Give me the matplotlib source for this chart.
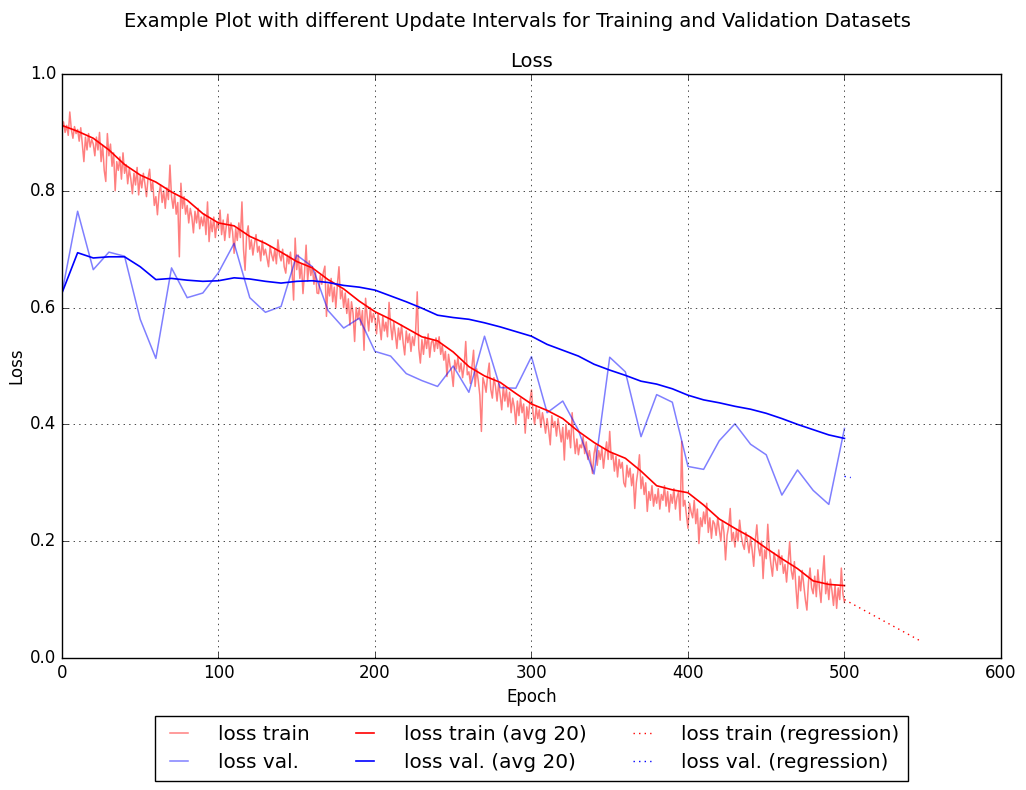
import matplotlib
matplotlib.use("Agg")
import matplotlib.pyplot as plt

# loss per training epoch (0..500)
loss_train = [
    0.905, 0.918, 0.900, 0.912, 0.895, 0.935, 0.905, 0.890, 0.910, 0.898,
    0.905, 0.885, 0.908, 0.880, 0.850, 0.892, 0.870, 0.898, 0.875, 0.888,
    0.880, 0.860, 0.892, 0.870, 0.900, 0.850, 0.878, 0.835, 0.816, 0.898,
    0.860, 0.880, 0.842, 0.865, 0.800, 0.850, 0.835, 0.858, 0.820, 0.865,
    0.830, 0.845, 0.812, 0.838, 0.820, 0.795, 0.830, 0.810, 0.840, 0.793,
    0.825, 0.805, 0.830, 0.812, 0.790, 0.822, 0.837, 0.800, 0.815, 0.775,
    0.790, 0.759, 0.795, 0.810, 0.780, 0.800, 0.770, 0.805, 0.785, 0.844,
    0.790, 0.770, 0.795, 0.760, 0.780, 0.687, 0.813, 0.770, 0.790, 0.760,
    0.775, 0.745, 0.770, 0.755, 0.728, 0.765, 0.745, 0.770, 0.735, 0.755,
    0.740, 0.760, 0.725, 0.781, 0.713, 0.750, 0.730, 0.755, 0.720, 0.745,
    0.735, 0.767, 0.725, 0.750, 0.715, 0.740, 0.760, 0.720, 0.745, 0.730,
    0.693, 0.735, 0.715, 0.745, 0.720, 0.781, 0.700, 0.664, 0.725, 0.740,
    0.700, 0.716, 0.690, 0.710, 0.725, 0.695, 0.705, 0.680, 0.715, 0.690,
    0.700, 0.685, 0.670, 0.705, 0.690, 0.680, 0.700, 0.675, 0.716, 0.690,
    0.680, 0.700, 0.670, 0.659, 0.690, 0.675, 0.695, 0.665, 0.613, 0.719,
    0.665, 0.690, 0.650, 0.675, 0.624, 0.660, 0.707, 0.645, 0.680, 0.655,
    0.670, 0.640, 0.660, 0.625, 0.624, 0.655, 0.640, 0.660, 0.671, 0.585,
    0.640, 0.620, 0.650, 0.610, 0.635, 0.600, 0.640, 0.670, 0.615, 0.630,
    0.600, 0.625, 0.590, 0.615, 0.570, 0.610, 0.590, 0.542, 0.600, 0.580,
    0.600, 0.570, 0.595, 0.527, 0.616, 0.585, 0.560, 0.600, 0.575, 0.590,
    0.580, 0.555, 0.590, 0.570, 0.545, 0.585, 0.560, 0.575, 0.550, 0.609,
    0.570, 0.545, 0.575, 0.555, 0.530, 0.565, 0.545, 0.570, 0.540, 0.519,
    0.560, 0.540, 0.555, 0.525, 0.550, 0.535, 0.560, 0.627, 0.530, 0.505,
    0.545, 0.520, 0.550, 0.530, 0.555, 0.515, 0.540, 0.545, 0.525, 0.548,
    0.530, 0.550, 0.520, 0.535, 0.510, 0.525, 0.482, 0.520, 0.500, 0.490,
    0.465, 0.510, 0.495, 0.515, 0.490, 0.505, 0.480, 0.500, 0.542, 0.485,
    0.490, 0.470, 0.500, 0.527, 0.465, 0.495, 0.475, 0.450, 0.388, 0.480,
    0.470, 0.455, 0.485, 0.505, 0.460, 0.445, 0.480, 0.465, 0.440, 0.470,
    0.450, 0.425, 0.465, 0.440, 0.460, 0.430, 0.455, 0.420, 0.445, 0.430,
    0.400, 0.440, 0.415, 0.445, 0.420, 0.435, 0.385, 0.430, 0.410, 0.440,
    0.459, 0.420, 0.400, 0.430, 0.410, 0.425, 0.395, 0.420, 0.405, 0.385,
    0.410, 0.390, 0.365, 0.415, 0.395, 0.405, 0.380, 0.410, 0.390, 0.370,
    0.395, 0.339, 0.400, 0.375, 0.390, 0.360, 0.420, 0.380, 0.350, 0.375,
    0.348, 0.365, 0.360, 0.379, 0.350, 0.370, 0.340, 0.355, 0.335, 0.316,
    0.350, 0.365, 0.330, 0.355, 0.340, 0.360, 0.325, 0.350, 0.370, 0.340,
    0.388, 0.340, 0.350, 0.320, 0.345, 0.310, 0.340, 0.325, 0.335, 0.300,
    0.293, 0.330, 0.310, 0.325, 0.295, 0.315, 0.256, 0.300, 0.320, 0.348,
    0.290, 0.310, 0.280, 0.300, 0.251, 0.285, 0.270, 0.295, 0.260, 0.280,
    0.265, 0.290, 0.255, 0.280, 0.270, 0.295, 0.260, 0.285, 0.250, 0.280,
    0.265, 0.290, 0.255, 0.275, 0.285, 0.236, 0.371, 0.260, 0.270, 0.245,
    0.222, 0.265, 0.250, 0.240, 0.270, 0.230, 0.255, 0.196, 0.240, 0.225,
    0.250, 0.230, 0.265, 0.215, 0.240, 0.205, 0.235, 0.230, 0.210, 0.240,
    0.220, 0.200, 0.235, 0.215, 0.168, 0.210, 0.225, 0.256, 0.200, 0.215,
    0.190, 0.220, 0.200, 0.236, 0.210, 0.195, 0.186, 0.215, 0.200, 0.180,
    0.205, 0.185, 0.157, 0.200, 0.228, 0.190, 0.175, 0.200, 0.136, 0.185,
    0.170, 0.229, 0.185, 0.160, 0.140, 0.180, 0.165, 0.150, 0.185, 0.160,
    0.175, 0.145, 0.160, 0.130, 0.165, 0.199, 0.150, 0.135, 0.165, 0.120,
    0.085, 0.140, 0.115, 0.150, 0.125, 0.100, 0.082, 0.130, 0.154, 0.120,
    0.110, 0.140, 0.105, 0.151, 0.120, 0.095, 0.140, 0.175, 0.110, 0.130,
    0.100, 0.135, 0.115, 0.090, 0.125, 0.085, 0.120, 0.100, 0.154, 0.110,
    0.095,
]
train_epochs = list(range(len(loss_train)))

# averaged / validation values every 10 epochs
epochs_10 = list(range(0, 501, 10))
loss_train_avg = [
    0.912, 0.902, 0.890, 0.870, 0.845, 0.827, 0.815, 0.798, 0.784, 0.761,
    0.745, 0.740, 0.722, 0.710, 0.695, 0.679, 0.668, 0.648, 0.632, 0.611,
    0.593, 0.580, 0.565, 0.550, 0.543, 0.524, 0.499, 0.483, 0.472, 0.453,
    0.435, 0.424, 0.410, 0.388, 0.369, 0.353, 0.342, 0.320, 0.295, 0.288,
    0.283, 0.262, 0.238, 0.222, 0.207, 0.188, 0.170, 0.153, 0.132, 0.126,
    0.124,
]
loss_val = [
    0.625, 0.765, 0.665, 0.695, 0.688, 0.580, 0.513, 0.668, 0.617, 0.625,
    0.660, 0.710, 0.617, 0.592, 0.602, 0.690, 0.670, 0.595, 0.565, 0.582,
    0.525, 0.517, 0.487, 0.475, 0.465, 0.500, 0.455, 0.551, 0.463, 0.462,
    0.516, 0.420, 0.440, 0.390, 0.315, 0.515, 0.490, 0.379, 0.451, 0.438,
    0.328, 0.323, 0.372, 0.401, 0.366, 0.348, 0.279, 0.322, 0.287, 0.263,
    0.393,
]
loss_val_avg = [
    0.625, 0.694, 0.685, 0.687, 0.687, 0.670, 0.648, 0.650, 0.647, 0.645,
    0.646, 0.651, 0.649, 0.645, 0.642, 0.645, 0.646, 0.643, 0.638, 0.635,
    0.630, 0.620, 0.610, 0.599, 0.587, 0.583, 0.580, 0.574, 0.567, 0.559,
    0.551, 0.537, 0.527, 0.517, 0.503, 0.493, 0.484, 0.474, 0.469, 0.461,
    0.450, 0.442, 0.437, 0.431, 0.426, 0.419, 0.410, 0.400, 0.391, 0.382,
    0.376,
]

# regression extensions
reg_train_x = [500, 548]
reg_train_y = [0.100, 0.030]
reg_val_x = [500, 504]
reg_val_y = [0.311, 0.309]

plt.style.use("classic")
fig = plt.figure(figsize=(10.26, 7.9), dpi=100, facecolor="white")
ax = fig.add_subplot(111)
fig.subplots_adjust(left=0.0604, right=0.9756, bottom=0.1671, top=0.9063)

ax.plot(train_epochs, loss_train, color="r", alpha=0.5, lw=1.1, label="loss train")
ax.plot(epochs_10, loss_val, color="b", alpha=0.5, lw=1.1, label="loss val.")
ax.plot(epochs_10, loss_train_avg, color="r", lw=1.2, label="loss train (avg 20)")
ax.plot(epochs_10, loss_val_avg, color="b", lw=1.2, label="loss val. (avg 20)")
ax.plot(reg_train_x, reg_train_y, "r:", label="loss train (regression)")
ax.plot(reg_val_x, reg_val_y, "b:", label="loss val. (regression)")

ax.set_xlim(0, 600)
ax.set_ylim(0.0, 1.0)
ax.grid(True)
ax.set_title("Loss", fontsize=14)
ax.set_xlabel("Epoch")
ax.set_ylabel("Loss", labelpad=3)

fig.suptitle("Example Plot with different Update Intervals for Training and Validation Datasets",
             fontsize=14, x=0.504, y=0.985)
ax.legend(loc="upper center", bbox_to_anchor=(0.5, -0.1), borderaxespad=0.0,
          ncol=3, fontsize=14.4, handlelength=1.5, handletextpad=1.2,
          columnspacing=2.0, borderpad=0.45, labelspacing=0.45, frameon=True)

fig.savefig("out.png", dpi=100, facecolor="white")
